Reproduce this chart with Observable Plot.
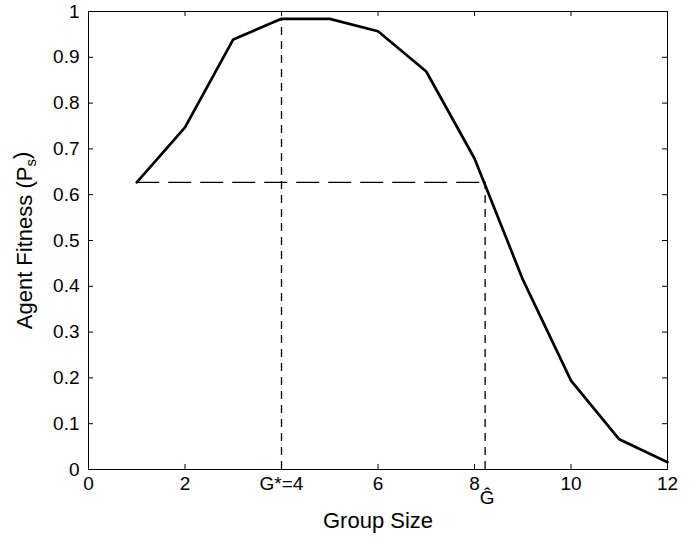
<!DOCTYPE html>
<html>
<head>
<meta charset="utf-8">
<script src="https://cdn.jsdelivr.net/npm/d3@7"></script>
<script src="https://cdn.jsdelivr.net/npm/@observablehq/plot@0.6"></script>
<style>
  html, body { margin: 0; padding: 0; background: #fff; }
  #chart svg { display: block; }
</style>
</head>
<body>
<div id="chart"></div>
<script>
// ---- data ----
const groupSize = [1, 2, 3, 4, 5, 6, 7, 8, 9, 10, 11, 12];
const fitness = [0.627, 0.747, 0.939, 0.984, 0.984, 0.957, 0.869, 0.679, 0.415, 0.194, 0.066, 0.016];
const gStar = 4;
const gHat = 8.22;
const threshold = 0.627;
const gStarPeak = 0.984;
const xTicks = [0, 2, 4, 6, 8, 10, 12];
const xTickLabels = ["0", "2", "G*=4", "6", "8", "10", "12"];
const gHatLabel = "\u011C";
const yTicks = [0, 0.1, 0.2, 0.3, 0.4, 0.5, 0.6, 0.7, 0.8, 0.9, 1];
const yTickLabels = ["0", "0.1", "0.2", "0.3", "0.4", "0.5", "0.6", "0.7", "0.8", "0.9", "1"];
const xLabel = "Group Size";
const yLabel = "Agent Fitness (Ps)";

const data = groupSize.map((g, i) => ({g, f: fitness[i]}));
const font = "'Liberation Sans', Arial, Helvetica, sans-serif";

const chart = Plot.plot({
  width: 697,
  height: 544,
  marginLeft: 88,
  marginRight: 30,
  marginTop: 11,
  marginBottom: 75,
  style: {fontFamily: font, fontSize: "19px", background: "#fff", color: "#000"},
  x: {domain: [0, 12]},
  y: {domain: [0, 1]},
  marks: [
    Plot.axisX(xTicks, {tickSize: 0, tickPadding: 7, tickFormat: (d) => xTickLabels[xTicks.indexOf(d)], label: null, fontSize: 19}),
    Plot.axisY(yTicks, {tickSize: 0, tickPadding: 9, tickFormat: (d) => yTickLabels[yTicks.indexOf(d)], label: null, fontSize: 19}),
    // inward ticks
    Plot.tickX(xTicks, {x: (d) => d, insetTop: 453, stroke: "#000"}),
    Plot.tickX(xTicks, {x: (d) => d, insetBottom: 453, stroke: "#000"}),
    Plot.tickY(yTicks, {y: (d) => d, insetRight: 574, stroke: "#000"}),
    Plot.tickY(yTicks, {y: (d) => d, insetLeft: 574, stroke: "#000"}),
    // reference lines
    Plot.ruleY([threshold], {x1: groupSize[0], x2: gHat, stroke: "#000", strokeWidth: 1.3, strokeDasharray: "23,9"}),
    Plot.ruleX([gStar], {y1: 0, y2: gStarPeak, stroke: "#000", strokeWidth: 1.3, strokeDasharray: "8,6"}),
    Plot.ruleX([gHat], {y1: 0, y2: threshold, stroke: "#000", strokeWidth: 1.3, strokeDasharray: "8,6"}),
    // data line
    Plot.line(data, {x: "g", y: "f", stroke: "#000", strokeWidth: 2.7, strokeLinejoin: "miter"}),
    // G-hat label
    Plot.text([gHatLabel], {x: gHat, frameAnchor: "bottom", lineAnchor: "top", dx: 2, dy: 20.5, text: (d) => d, fontSize: 19}),
    // axis titles
    Plot.text([xLabel], {frameAnchor: "bottom", textAnchor: "middle", dy: 58, text: (d) => d, fontSize: 22}),
    Plot.text([yLabel], {frameAnchor: "left", textAnchor: "middle", dx: -64, rotate: -90, text: (d) => d, fontSize: 22}),
    Plot.frame({stroke: "#000", strokeWidth: 1})
  ]
});

// subscript in y label
d3.select(chart).selectAll("text").each(function () {
  if (this.textContent === yLabel) {
    const t = d3.select(this);
    t.text(null);
    t.append("tspan").text("Agent Fitness (P");
    t.append("tspan").attr("font-size", "15px").attr("dy", "0.3em").text("s");
    t.append("tspan").attr("dy", "-0.3em").text(")");
  }
});

document.getElementById("chart").appendChild(chart);
</script>
</body>
</html>
